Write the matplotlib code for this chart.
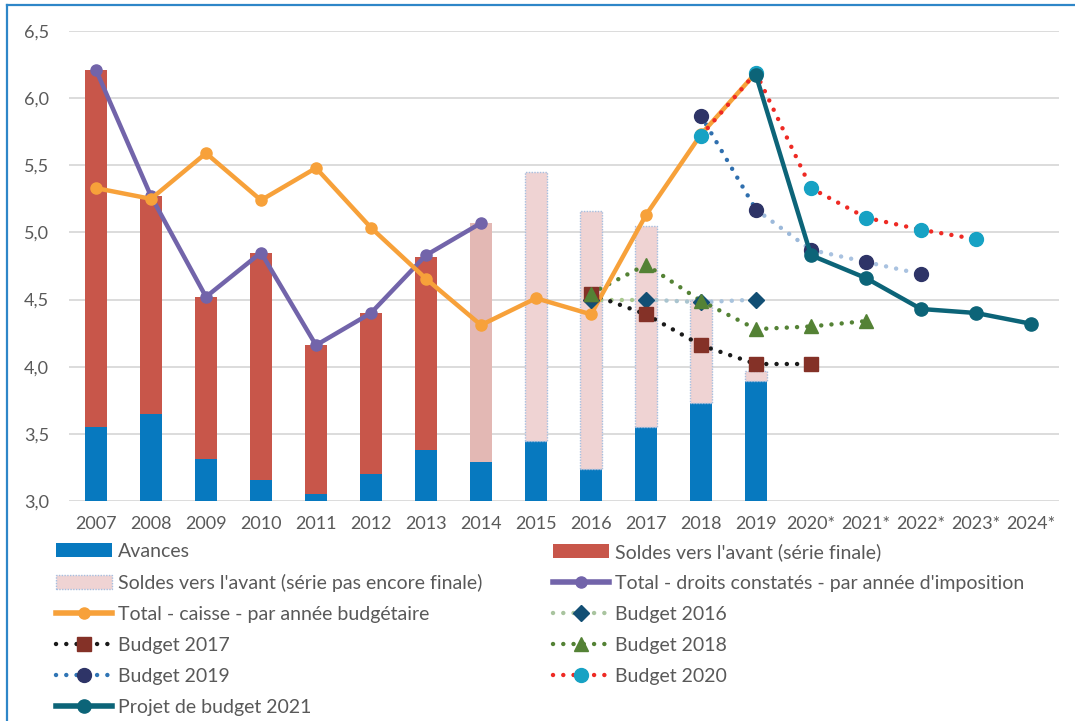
import numpy as np
import matplotlib
matplotlib.use("Agg")
import matplotlib.pyplot as plt
from matplotlib.lines import Line2D
from matplotlib.patches import Patch

plt.rcParams['font.family'] = ['Lato', 'DejaVu Sans']

# ---------------- data ----------------
years = ['2007', '2008', '2009', '2010', '2011', '2012', '2013', '2014', '2015',
         '2016', '2017', '2018', '2019', '2020*', '2021*', '2022*', '2023*', '2024*']

# stacked bars (2007-2019)
avances = [3.55, 3.65, 3.31, 3.16, 3.05, 3.20, 3.38, 3.29, 3.45, 3.24, 3.55, 3.73, 3.89]
# final series 2007-2014 (2014 in lighter shade)
soldes_finale = [2.66, 1.62, 1.21, 1.69, 1.11, 1.20, 1.44, 1.78]
# not yet final 2015-2019
soldes_pas_finale = [2.00, 1.92, 1.50, 0.77, 0.08]

# lines
droits_constates = [6.21, 5.27, 4.52, 4.85, 4.16, 4.40, 4.83, 5.07]          # 2007-2014
caisse = [5.33, 5.25, 5.59, 5.24, 5.48, 5.035, 4.655, 4.31, 4.51, 4.39,
          5.13, 5.73, 6.19]                                                # 2007-2019
budget_2016 = [4.50, 4.50, 4.48, 4.50]                                     # 2016-2019
budget_2017 = [4.54, 4.39, 4.16, 4.02, 4.02]                               # 2016-2020
budget_2018 = [4.545, 4.76, 4.49, 4.28, 4.30, 4.34]                        # 2016-2021
budget_2019 = [5.87, 5.17, 4.87, 4.78, 4.69]                               # 2018-2022
budget_2020 = [5.72, 6.19, 5.33, 5.11, 5.02, 4.95]                         # 2018-2023
projet_2021 = [6.17, 4.83, 4.66, 4.43, 4.40, 4.32]                         # 2019-2024

labels = ["Avances", "Soldes vers l'avant (série finale)",
          "Soldes vers l'avant (série pas encore finale)",
          "Total - droits constatés - par année d'imposition",
          "Total - caisse - par année budgétaire",
          "Budget 2016", "Budget 2017", "Budget 2018", "Budget 2019",
          "Budget 2020", "Projet de budget 2021"]

# ---------------- style ----------------
TXT = '#595959'
C_AV = '#0779BF'
C_SF = '#C8564A'
C_SF14 = '#E3B8B4'
C_SP = '#EFD3D3'
C_SP_EDGE = '#A6BEDF'
C_PURPLE = '#7264AA'
C_ORANGE = '#F7A13A'
C_TEAL = '#0C6478'

fig = plt.figure(figsize=(10.75, 7.21), dpi=100)
W, H = 1075, 721
ax = fig.add_axes([68.5 / W, 1 - 501 / H, (1058.5 - 68.5) / W, (501 - 31) / H])

x = np.arange(len(years))
bw = 0.4

# bars
ax.bar(x[:13], avances, width=bw, color=C_AV, zorder=2)
sf_colors = [C_SF] * 7 + [C_SF14]
ax.bar(x[:8], soldes_finale, bottom=avances[:8], width=bw, color=sf_colors, zorder=2)
ax.bar(x[8:13], soldes_pas_finale, bottom=avances[8:13], width=bw, color=C_SP,
       edgecolor=C_SP_EDGE, linewidth=1.0, linestyle=(0, (1, 1)), zorder=2)

DOT = (0, (0.01, 2.3))

def dotted(xs, ys, colors, lw=3.2, z=3):
    for i in range(len(xs) - 1):
        ax.plot(xs[i:i + 2], ys[i:i + 2], color=colors[min(i, len(colors) - 1)],
                lw=lw, linestyle=DOT, dash_capstyle='round', zorder=z)

# total lines
ax.plot(x[:8], droits_constates, color=C_PURPLE, lw=3.2, marker='o', ms=8,
        zorder=4)
ax.plot(x[:13], caisse, color=C_ORANGE, lw=3.2, marker='o', ms=8, zorder=4)

# budget 2016
xb16 = x[9:13]
dotted(xb16, budget_2016, ['#A9C98F', '#A9C4CF', '#A8C3DD'])
ax.plot(xb16, budget_2016, ls='none', marker='D', ms=8, color='#124F74', zorder=5)
# budget 2017
xb17 = x[9:14]
dotted(xb17, budget_2017, ['#1A1A1A'])
ax.plot(xb17, budget_2017, ls='none', marker='s', ms=9.5, color='#843127', zorder=5)
# budget 2018
xb18 = x[9:15]
dotted(xb18, budget_2018, ['#548235'])
ax.plot(xb18, budget_2018, ls='none', marker='^', ms=10.5, color='#548235', zorder=5)
# budget 2019
xb19 = x[11:16]
dotted(xb19, budget_2019, ['#2F6FAE', '#9CB9DA', '#A9C2E0', '#A9C2E0'])
ax.plot(xb19, budget_2019, ls='none', marker='o', ms=10, color='#2E3467', zorder=5)
# budget 2020
xb20 = x[11:17]
dotted(xb20, budget_2020, ['#EE2A24'], z=5)
ax.plot(xb20, budget_2020, ls='none', marker='o', ms=10, color='#17A2C4', zorder=6)
# projet 2021
ax.plot(x[12:18], projet_2021, color=C_TEAL, lw=3.2, marker='o', ms=9.5, zorder=7)

# axes styling
ax.set_xlim(-0.5, len(years) - 0.5)
ax.set_ylim(3.0, 6.5)
yt = np.arange(3.0, 6.51, 0.5)
ax.set_yticks(yt)
ax.set_yticklabels([f"{v:.1f}".replace('.', ',') for v in yt])
ax.set_xticks(x)
ax.set_xticklabels(years)
ax.grid(axis='y', color='#D9D9D9', lw=1.3, zorder=0)
ax.set_axisbelow(True)
for s in ax.spines.values():
    s.set_visible(False)
ax.tick_params(axis='both', length=0, labelsize=13, labelcolor=TXT)
ax.tick_params(axis='y', pad=14)
ax.tick_params(axis='x', pad=11)

# legend handles
def dline(c, m, mc, ms):
    return Line2D([0], [0], color=c, lw=3.2, linestyle=DOT, dash_capstyle='round',
                  marker=m, markerfacecolor=mc, markeredgecolor=mc, ms=ms)

h = {
    labels[0]: Patch(facecolor=C_AV),
    labels[1]: Patch(facecolor=C_SF),
    labels[2]: Patch(facecolor=C_SP, edgecolor=C_SP_EDGE, linestyle=(0, (1, 1))),
    labels[3]: Line2D([0], [0], color=C_PURPLE, lw=4, marker='o', ms=8),
    labels[4]: Line2D([0], [0], color=C_ORANGE, lw=4, marker='o', ms=8),
    labels[5]: dline('#A9C49F', 'D', '#124F74', 8),
    labels[6]: dline('#1A1A1A', 's', '#843127', 9.5),
    labels[7]: dline('#548235', '^', '#548235', 10),
    labels[8]: dline('#2F75B5', 'o', '#2E3467', 10),
    labels[9]: dline('#EE2A24', 'o', '#17A2C4', 10),
    labels[10]: Line2D([0], [0], color=C_TEAL, lw=4, marker='o', ms=9.5),
}
col1 = [labels[i] for i in (0, 2, 4, 6, 8, 10)]
col2 = [labels[i] for i in (1, 3, 5, 7, 9)]
common = dict(frameon=False, fontsize=14, labelcolor=TXT, handlelength=2.9,
              handleheight=0.7, handletextpad=0.3, labelspacing=0.72, borderpad=0,
              borderaxespad=0, loc='upper left')
fig.legend([h[l] for l in col1], col1,
           bbox_to_anchor=(56 / W, 1 - 543 / H), **common)
fig.legend([h[l] for l in col2], col2,
           bbox_to_anchor=(553 / W, 1 - 543 / H), **common)

# frame lines (left and top)
fig.add_artist(Line2D([7 / W, 7 / W], [0, 1 - 5 / H], color='#2E86C8', lw=1.6,
                      transform=fig.transFigure))
fig.add_artist(Line2D([7 / W, 1], [1 - 5 / H, 1 - 5 / H], color='#2E86C8', lw=1.6,
                      transform=fig.transFigure))

fig.savefig('out.png', dpi=100, facecolor='white')
